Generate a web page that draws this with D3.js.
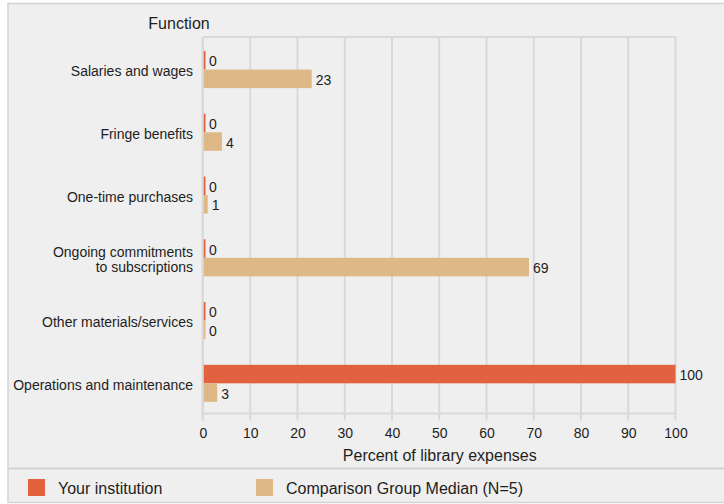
<!DOCTYPE html>
<html>
<head>
<meta charset="utf-8">
<script src="https://cdn.jsdelivr.net/npm/d3@7"></script>
<style>
  html, body { margin: 0; padding: 0; background: #ffffff; }
  svg { display: block; font-family: "Liberation Sans", Arial, Helvetica, sans-serif; }
</style>
</head>
<body>
<svg id="chart" width="724" height="504"></svg>
<script>
// Expense functions (each entry is a list of label lines)
const categories = [
  ["Salaries and wages"],
  ["Fringe benefits"],
  ["One-time purchases"],
  ["Ongoing commitments", "to subscriptions"],
  ["Other materials/services"],
  ["Operations and maintenance"]
];
const seriesNames = ["Your institution", "Comparison Group Median (N=5)"];
const yourInstitution = [0, 0, 0, 0, 0, 100];
const comparisonMedian = [23, 4, 1, 69, 0, 3];
const xTicks = [0, 10, 20, 30, 40, 50, 60, 70, 80, 90, 100];
const colors = ["#e2613f", "#deb887"];

const svg = d3.select("#chart");
const W = 724, H = 504;
const panel = { left: 8, top: 3.5, bottom: 502.5 };
const plot = { left: 203, right: 675.5, top: 37, bottom: 413.5 };
const gridColor = "#d9d9d9";
const textColor = "#1e1e1e";

// panel background and frame
svg.append("rect")
  .attr("x", panel.left).attr("y", panel.top)
  .attr("width", W - panel.left + 2).attr("height", panel.bottom - panel.top)
  .attr("fill", "#efefef")
  .attr("stroke", "#d3d3d3").attr("stroke-width", 1.5);

// legend separator
svg.append("line")
  .attr("x1", panel.left).attr("x2", W)
  .attr("y1", 468.5).attr("y2", 468.5)
  .attr("stroke", "#d3d3d3").attr("stroke-width", 2);

const x = d3.scaleLinear().domain([0, 100]).range([plot.left, plot.right]);
const y = d3.scaleBand()
  .domain(d3.range(categories.length))
  .range([plot.top + 1.2, plot.bottom + 1.2])
  .paddingInner(0.41).paddingOuter(0.205);
const sub = d3.scaleBand().domain([0, 1]).range([0, y.bandwidth()]);

// vertical gridlines (extending below the axis as ticks)
svg.append("g").selectAll("line")
  .data(xTicks)
  .join("line")
  .attr("x1", d => x(d)).attr("x2", d => x(d))
  .attr("y1", plot.top).attr("y2", plot.bottom + 7)
  .attr("stroke", gridColor).attr("stroke-width", 2);

// plot frame: top edge, bottom axis line
svg.append("line")
  .attr("x1", plot.left).attr("x2", plot.right)
  .attr("y1", plot.top).attr("y2", plot.top)
  .attr("stroke", gridColor).attr("stroke-width", 2);
svg.append("line")
  .attr("x1", plot.left - 1).attr("x2", plot.right + 1)
  .attr("y1", plot.bottom).attr("y2", plot.bottom)
  .attr("stroke", gridColor).attr("stroke-width", 2);

// x axis tick labels
const xAxis = d3.axisBottom(x).tickValues(xTicks).tickSize(0).tickPadding(15);
const gx = svg.append("g")
  .attr("transform", `translate(0,${plot.bottom})`)
  .call(xAxis);
gx.select(".domain").remove();
gx.selectAll("text")
  .attr("fill", textColor)
  .style("font-size", "14px")
  .style("font-family", "\"Liberation Sans\", Arial, sans-serif");

// axis title
svg.append("text")
  .attr("x", (plot.left + plot.right) / 2 + 0.5).attr("y", 455.5)
  .attr("text-anchor", "middle").attr("dominant-baseline", "central")
  .attr("fill", textColor).style("font-size", "16px")
  .text("Percent of library expenses");

// category axis title
svg.append("text")
  .attr("x", 179).attr("y", 23)
  .attr("text-anchor", "middle").attr("dominant-baseline", "central")
  .attr("fill", textColor).style("font-size", "16px")
  .text("Function");

// category labels
const lineH = 15.6;
const cat = svg.append("g").selectAll("text")
  .data(categories)
  .join("text")
  .attr("text-anchor", "end")
  .attr("fill", textColor)
  .style("font-size", "14px")
  .attr("transform", (d, i) => `translate(193,${y(i) + y.bandwidth() / 2 + 1.8})`);
cat.selectAll("tspan")
  .data(d => d.map((t, k) => ({ t, k, n: d.length })))
  .join("tspan")
  .attr("x", 0)
  .attr("y", d => (d.k - (d.n - 1) / 2) * lineH)
  .attr("dominant-baseline", "central")
  .text(d => d.t);

// bars
const series = [yourInstitution, comparisonMedian];
series.forEach((vals, s) => {
  const g = svg.append("g");
  g.selectAll("rect")
    .data(vals)
    .join("rect")
    .attr("x", x(0) + 0.5)
    .attr("y", (d, i) => y(i) + sub(s))
    .attr("width", d => Math.max(2, x(d) - x(0) - 0.5))
    .attr("height", sub.bandwidth())
    .attr("fill", colors[s]);
  g.selectAll("text")
    .data(vals)
    .join("text")
    .attr("x", d => Math.max(x(d), x(0) + 2) + 4)
    .attr("y", (d, i) => y(i) + sub(s) + sub.bandwidth() / 2 + 1)
    .attr("dominant-baseline", "central")
    .attr("fill", textColor)
    .style("font-size", "14px")
    .text(d => d);
});

// left axis line, drawn over the bar bases
svg.append("line")
  .attr("x1", plot.left - 0.5).attr("x2", plot.left - 0.5)
  .attr("y1", plot.top).attr("y2", plot.bottom + 7)
  .attr("stroke", gridColor).attr("stroke-width", 2);

// legend
const legendItems = [
  { name: seriesNames[0], color: colors[0], x: 28 },
  { name: seriesNames[1], color: colors[1], x: 256 }
];
const lg = svg.append("g").selectAll("g")
  .data(legendItems)
  .join("g")
  .attr("transform", d => `translate(${d.x},479)`);
lg.append("rect")
  .attr("width", 17).attr("height", 17)
  .attr("fill", d => d.color);
lg.append("text")
  .attr("x", 30).attr("y", 9.5)
  .attr("dominant-baseline", "central")
  .attr("fill", textColor)
  .style("font-size", "16px")
  .text(d => d.name);
</script>
</body>
</html>
